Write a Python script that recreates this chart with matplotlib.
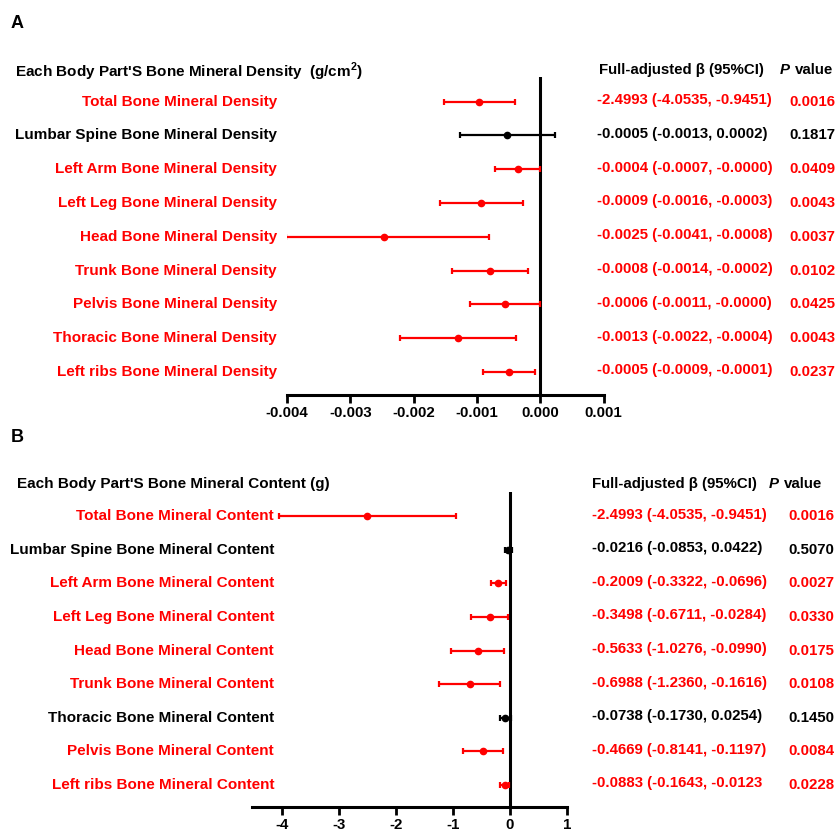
import matplotlib
matplotlib.use("Agg")
import matplotlib.pyplot as plt
from matplotlib.transforms import blended_transform_factory

plt.rcParams['font.family'] = ['Liberation Sans', 'DejaVu Sans']
plt.rcParams['font.weight'] = 'bold'
plt.rcParams['mathtext.fontset'] = 'custom'
plt.rcParams['mathtext.rm'] = 'Liberation Sans:bold'
plt.rcParams['mathtext.bf'] = 'Liberation Sans:bold'

RED = '#FF0000'
BLACK = '#000000'

# ---- Panel A: bone mineral density ----
a_labels = ["Total Bone Mineral Density", "Lumbar Spine Bone Mineral Density",
            "Left Arm Bone Mineral Density", "Left Leg Bone Mineral Density",
            "Head Bone Mineral Density", "Trunk Bone Mineral Density",
            "Pelvis Bone Mineral Density", "Thoracic Bone Mineral Density",
            "Left ribs Bone Mineral Density"]
a_beta = [-0.00097, -0.00052, -0.00036, -0.00093, -0.00247, -0.00079, -0.00056, -0.00130, -0.00049]
a_lo = [-0.00152, -0.00127, -0.00072, -0.00159, -0.00402, -0.00140, -0.00111, -0.00221, -0.00090]
a_hi = [-0.00040, 0.00023, 0.00000, -0.00027, -0.00081, -0.00019, 0.00000, -0.00039, -0.00009]
a_ci_text = ["-2.4993 (-4.0535, -0.9451)", "-0.0005 (-0.0013, 0.0002)",
             "-0.0004 (-0.0007, -0.0000)", "-0.0009 (-0.0016, -0.0003)",
             "-0.0025 (-0.0041, -0.0008)", "-0.0008 (-0.0014, -0.0002)",
             "-0.0006 (-0.0011, -0.0000)", "-0.0013 (-0.0022, -0.0004)",
             "-0.0005 (-0.0009, -0.0001)"]
a_p = ["0.0016", "0.1817", "0.0409", "0.0043", "0.0037", "0.0102", "0.0425", "0.0043", "0.0237"]
a_sig = [True, False, True, True, True, True, True, True, True]
a_ticks = [-0.004, -0.003, -0.002, -0.001, 0.000, 0.001]
a_ticklabels = ["-0.004", "-0.003", "-0.002", "-0.001", "0.000", "0.001"]

# ---- Panel B: bone mineral content ----
b_labels = ["Total Bone Mineral Content", "Lumbar Spine Bone Mineral Content",
            "Left Arm Bone Mineral Content", "Left Leg Bone Mineral Content",
            "Head Bone Mineral Content", "Trunk Bone Mineral Content",
            "Thoracic Bone Mineral Content", "Pelvis Bone Mineral Content",
            "Left ribs Bone Mineral Content"]
b_beta = [-2.4993, -0.0216, -0.2009, -0.3498, -0.5633, -0.6988, -0.0738, -0.4669, -0.0883]
b_lo = [-4.0535, -0.0853, -0.3322, -0.6711, -1.0276, -1.2360, -0.1730, -0.8141, -0.1643]
b_hi = [-0.9451, 0.0422, -0.0696, -0.0284, -0.0990, -0.1616, 0.0254, -0.1197, -0.0123]
b_ci_text = ["-2.4993 (-4.0535, -0.9451)", "-0.0216 (-0.0853, 0.0422)",
             "-0.2009 (-0.3322, -0.0696)", "-0.3498 (-0.6711, -0.0284)",
             "-0.5633 (-1.0276, -0.0990)", "-0.6988 (-1.2360, -0.1616)",
             "-0.0738 (-0.1730, 0.0254)", "-0.4669 (-0.8141, -0.1197)",
             "-0.0883 (-0.1643, -0.0123"]
b_p = ["0.0016", "0.5070", "0.0027", "0.0330", "0.0175", "0.0108", "0.1450", "0.0084", "0.0228"]
b_sig = [True, False, True, True, True, True, False, True, True]
b_ticks = [-4, -3, -2, -1, 0, 1]
b_ticklabels = ["-4", "-3", "-2", "-1", "0", "1"]

W, H = 840, 834
FS = 10.8


def fx(px):
    return px / W


def fy(py):
    return 1 - py / H


def forest(ax, labels, beta, lo, hi, ci_text, pvals, sig, ticks, ticklabels,
           xlim, ylim, label_x, ci_x, p_x):
    for i, (b, l, h, s) in enumerate(zip(beta, lo, hi, sig)):
        c = RED if s else BLACK
        ax.errorbar(b, i, xerr=[[b - l], [h - b]], fmt='o', color=c, ecolor=c,
                    ms=4.5, elinewidth=1.6, capsize=2.5, capthick=1.6, zorder=3)
    ax.axvline(0, color='k', lw=2.2, zorder=2)
    ax.set_xlim(*xlim)
    ax.set_ylim(*ylim)
    for side in ('top', 'right', 'left'):
        ax.spines[side].set_visible(False)
    ax.spines['bottom'].set_linewidth(2.2)
    ax.set_yticks([])
    ax.set_xticks(ticks)
    ax.set_xticklabels(ticklabels, fontsize=FS, fontweight='bold')
    ax.tick_params(axis='x', length=6, width=2, pad=2)
    ax.patch.set_visible(False)

    tr = blended_transform_factory(ax.figure.transFigure, ax.transData)
    for i, (lab, ct, p, s) in enumerate(zip(labels, ci_text, pvals, sig)):
        c = RED if s else BLACK
        ax.text(label_x, i, lab, transform=tr, ha='right', va='center',
                color=c, fontsize=11, fontweight='bold', clip_on=False)
        ax.text(ci_x, i - 0.05, ct, transform=tr, ha='left', va='center',
                color=c, fontsize=FS, fontweight='bold', clip_on=False)
        ax.text(p_x, i, p, transform=tr, ha='left', va='center',
                color=c, fontsize=FS, fontweight='bold', clip_on=False)


fig = plt.figure(figsize=(8.4, 8.34), dpi=100)

axA = fig.add_axes([fx(287), fy(395), fx(603.7 - 287), (395 - 76.7) / H])
forest(axA, a_labels, a_beta, a_lo, a_hi, a_ci_text, a_p, a_sig,
       a_ticks, a_ticklabels, (-0.004, 0.001), (8.68, -0.74),
       fx(277), fx(597), fx(789))

axB = fig.add_axes([fx(252), fy(806.7), fx(566.7 - 252), (806.7 - 491.7) / H])
forest(axB, b_labels, b_beta, b_lo, b_hi, b_ci_text, b_p, b_sig,
       b_ticks, b_ticklabels, (-4.52, 1.0), (8.643, -0.732),
       fx(274), fx(592), fx(788))

# panel letters and headers
fig.text(fx(11), fy(23), "A", fontsize=13, fontweight='bold', va='center')
fig.text(fx(11), fy(438), "B", fontsize=13, fontweight='bold', va='center')

fig.text(fx(15), fy(72), r"Each Body Part'S Bone Mineral Density  (g/cm$^{\mathbf{2}}$)",
         fontsize=11, fontweight='bold', va='center')
fig.text(fx(599), fy(70), "Full-adjusted \u03b2 (95%CI)", fontsize=FS,
         fontweight='bold', va='center')
fig.text(fx(780), fy(70), "P", fontsize=FS, fontweight='bold', style='italic', va='center')
fig.text(fx(795), fy(70), "value", fontsize=FS, fontweight='bold', va='center')

fig.text(fx(17), fy(484), "Each Body Part'S Bone Mineral Content (g)",
         fontsize=11, fontweight='bold', va='center')
fig.text(fx(592), fy(484), "Full-adjusted \u03b2 (95%CI)", fontsize=FS,
         fontweight='bold', va='center')
fig.text(fx(769), fy(484), "P", fontsize=FS, fontweight='bold', style='italic', va='center')
fig.text(fx(784), fy(484), "value", fontsize=FS, fontweight='bold', va='center')

fig.savefig("out.png", dpi=100)
